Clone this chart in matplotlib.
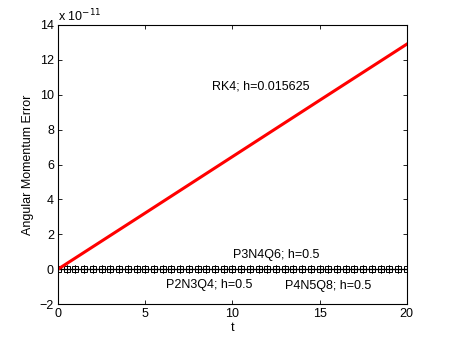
import numpy as np
import matplotlib
matplotlib.use("Agg")
import matplotlib.pyplot as plt
from matplotlib.ticker import FuncFormatter

plt.rcParams['font.family'] = ['Liberation Sans', 'DejaVu Sans']

# RK4 error
t_rk4 = [0, 5, 10, 15, 20]
err_rk4 = [0.0, 3.22e-11, 6.45e-11, 9.68e-11, 12.9e-11]

# Coarse-step methods, h = 0.5, error ~ 0
t_half = np.arange(0, 20.0 + 0.25, 0.5)
err_p2n3q4 = [0.0] * len(t_half)
err_p3n4q6 = [0.0] * len(t_half)
err_p4n5q8 = [0.0] * len(t_half)

xticks = [0, 5, 10, 15, 20]
yticks = [-2, 0, 2, 4, 6, 8, 10, 12, 14]
scale = 1e-11

fig = plt.figure(figsize=(4.5, 3.42), dpi=100)
ax = fig.add_axes([0.129, 0.111, 0.775, 0.816])

ax.plot(t_half, err_p2n3q4, color='k', lw=0.8, marker='s', ms=4.5,
        mfc='none', mec='k', mew=0.7)
ax.plot(t_half, err_p3n4q6, color='k', lw=0.8, marker='+', ms=5.5, mew=0.7)
ax.plot(t_half, err_p4n5q8, color='k', lw=0.8, marker='+', ms=5.5, mew=0.7)
ax.plot(t_rk4, err_rk4, color='red', lw=2.2)

ax.set_xlim(0, 20)
ax.set_ylim(-2 * scale, 14 * scale)
ax.set_xticks(xticks)
ax.set_yticks([v * scale for v in yticks])
ax.yaxis.set_major_formatter(FuncFormatter(lambda v, p: f'{v / scale:.0f}'.replace('-', '\u2212')))
ax.tick_params(direction='in', top=True, right=True, length=3, width=0.6,
               labelsize=9, pad=3)
for s in ax.spines.values():
    s.set_linewidth(0.8)

ax.set_xlabel('t', fontsize=9, labelpad=1)
ax.set_ylabel('Angular Momentum Error', fontsize=9, labelpad=4)

ax.text(0.0, 1.014, r'x 10$^{-11}$', transform=ax.transAxes, fontsize=9,
        ha='left', va='baseline')

ax.text(8.8, 10.45 * scale, 'RK4; h=0.015625', fontsize=9, va='center')
ax.text(10.03, 0.81 * scale, 'P3N4Q6; h=0.5', fontsize=9, va='center')
ax.text(6.19, -0.92 * scale, 'P2N3Q4; h=0.5', fontsize=9, va='center')
ax.text(13.0, -0.97 * scale, 'P4N5Q8; h=0.5', fontsize=9, va='center')

fig.savefig('out.png', dpi=100)
